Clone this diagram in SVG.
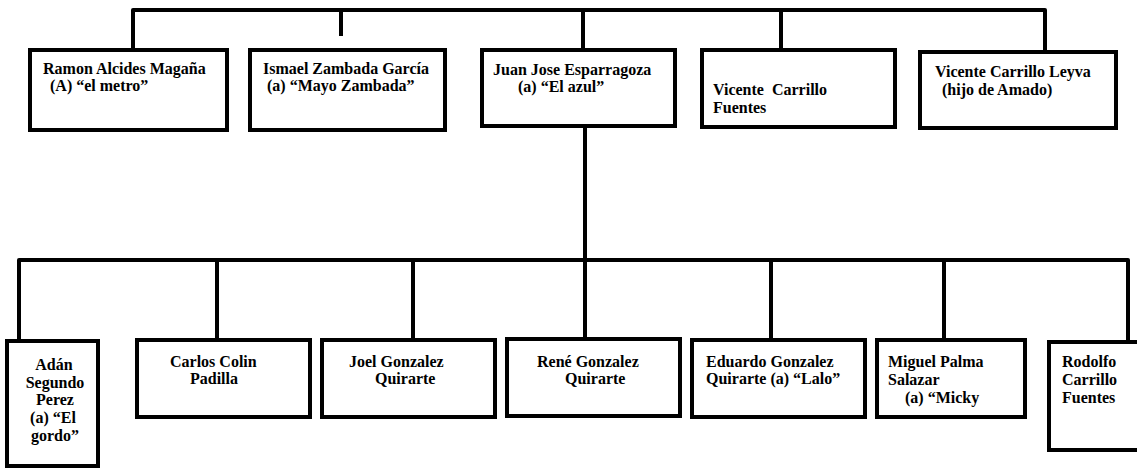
<svg xmlns="http://www.w3.org/2000/svg" width="1137" height="471" viewBox="0 0 1137 471">
<style>
.box{fill:#fff;stroke:#000;stroke-width:4}
.ln{fill:none;stroke:#000;stroke-width:4;stroke-linejoin:round}
text{font-family:"Liberation Serif","Times New Roman",serif;font-weight:bold;font-size:16px;fill:#000;white-space:pre}
.c{text-anchor:middle}
</style>
<rect width="1137" height="471" fill="#fff"/>
<g id="connectors">
<path class="ln" d="M133,48 V10 H1045 V50"/>
<path class="ln" d="M341,10 V36"/>
<path class="ln" d="M583,10 V48"/>
<path class="ln" d="M781,10 V48"/>
<path class="ln" d="M585,127 V339"/>
<path class="ln" d="M19,339 V260 H1128 V340"/>
<path class="ln" d="M217,260 V338"/>
<path class="ln" d="M413,260 V338"/>
<path class="ln" d="M771,260 V338"/>
<path class="ln" d="M944,260 V338"/>
</g>
<g id="n1"><rect class="box" x="30" y="50" width="197" height="80"/>
<text x="43" y="74">Ramon Alcides Magaña</text><text x="50" y="91">(A) “el metro”</text></g>
<g id="n2"><rect class="box" x="250" y="50" width="195" height="80"/>
<text x="263" y="74">Ismael Zambada García</text><text x="267" y="91">(a) “Mayo Zambada”</text></g>
<g id="n3"><rect class="box" x="482" y="50" width="193" height="76"/>
<text x="493" y="75">Juan Jose Esparragoza</text><text x="518" y="92">(a) “El azul”</text></g>
<g id="n4"><rect class="box" x="702" y="50" width="193" height="77"/>
<text x="713" y="95">Vicente  Carrillo</text><text x="713" y="113">Fuentes</text></g>
<g id="n5"><rect class="box" x="920" y="52" width="196" height="76"/>
<text x="935" y="77">Vicente Carrillo Leyva</text><text x="942" y="95">(hijo de Amado)</text></g>
<g id="n6"><rect class="box" x="7" y="341" width="91" height="125"/>
<text class="c" x="54" y="370">Adán</text><text class="c" x="55" y="388">Segundo</text><text class="c" x="55" y="405">Perez</text><text class="c" x="53" y="423">(a) “El</text><text class="c" x="55" y="441">gordo”</text></g>
<g id="n7"><rect class="box" x="137" y="340" width="173" height="77"/>
<text x="170" y="367">Carlos Colin</text><text x="190" y="384">Padilla</text></g>
<g id="n8"><rect class="box" x="322" y="340" width="173" height="77"/>
<text x="349" y="367">Joel Gonzalez</text><text x="375" y="384">Quirarte</text></g>
<g id="n9"><rect class="box" x="507" y="339" width="173" height="77"/>
<text x="537" y="367">René Gonzalez</text><text x="565" y="384">Quirarte</text></g>
<g id="n10"><rect class="box" x="692" y="340" width="173" height="77"/>
<text x="706" y="367">Eduardo Gonzalez</text><text x="706" y="384">Quirarte (a) “Lalo”</text></g>
<g id="n11"><rect class="box" x="877" y="340" width="148" height="77"/>
<text x="888" y="367">Miguel Palma</text><text x="888" y="385">Salazar</text><text x="905" y="403">(a) “Micky</text></g>
<g id="n12"><rect class="box" x="1049" y="342" width="100" height="108"/>
<text x="1062" y="367">Rodolfo</text><text x="1062" y="385">Carrillo</text><text x="1062" y="403">Fuentes</text></g>
</svg>
